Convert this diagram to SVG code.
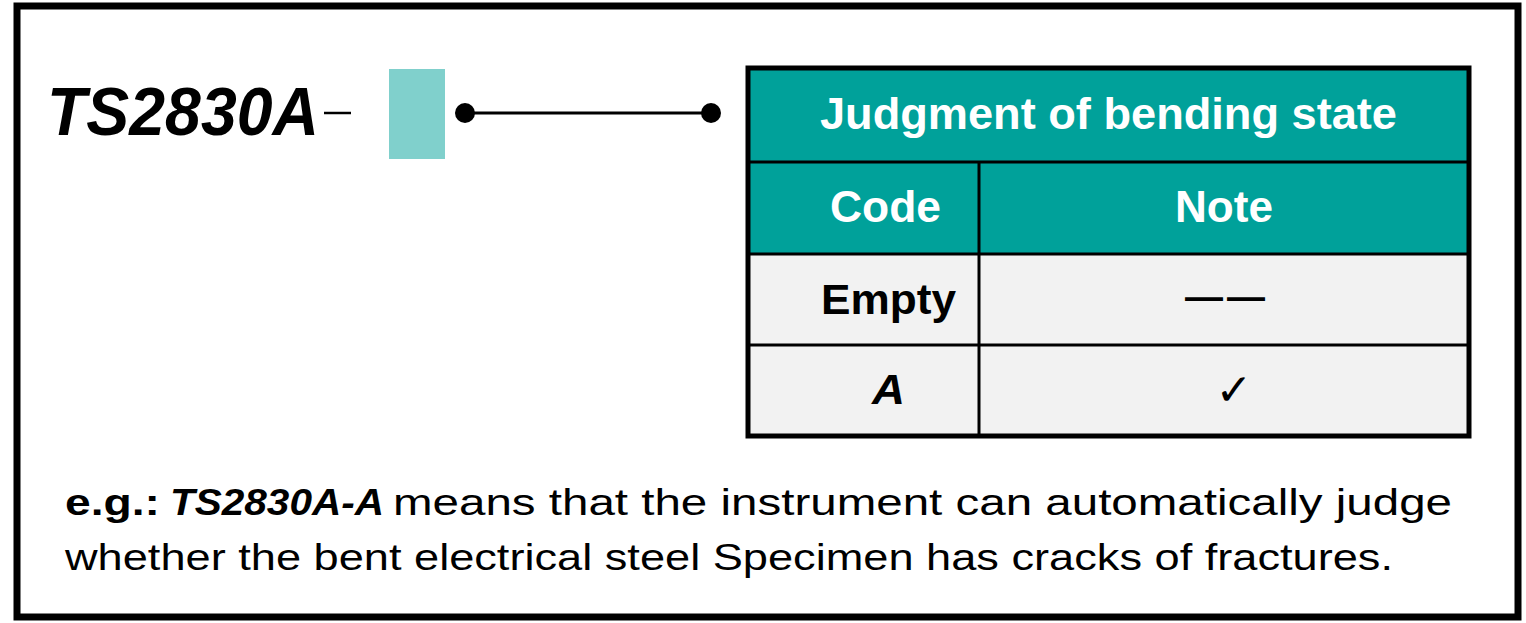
<svg xmlns="http://www.w3.org/2000/svg" width="1526" height="623" viewBox="0 0 1526 623">
<style>
.t{font-family:"Liberation Sans",Arial,sans-serif}
.b{font-weight:bold}
.i{font-style:italic}
.w{fill:#fff}
.k{fill:#000}
.hd{fill:#00A19A}
.rw{fill:#F2F2F2}
.ln{stroke:#000;stroke-width:3;fill:none}
</style>
<rect x="0" y="0" width="1526" height="623" fill="#fff"/>
<g id="frame"><rect x="17" y="6" width="1501" height="611" fill="none" stroke="#000" stroke-width="7"/></g>
<g id="model">
<text class="t b i" x="47" y="135" font-size="69" textLength="272" lengthAdjust="spacingAndGlyphs">TS2830A</text>
<line x1="324" y1="113" x2="351" y2="113" stroke="#000" stroke-width="2.5"/>
<rect x="389" y="69" width="56" height="90" fill="#80D0CC"/>
</g>
<g id="connectors">
<line class="ln" x1="465" y1="113" x2="711" y2="113"/>
<circle cx="465" cy="113" r="10" fill="#000"/>
<circle cx="711" cy="113" r="10" fill="#000"/>
</g>
<g id="table">
<rect class="hd" x="748" y="68" width="721" height="186"/>
<rect class="rw" x="748" y="254" width="721" height="182"/>
<g stroke="#000" stroke-width="3">
<line x1="748" y1="162" x2="1469" y2="162"/>
<line x1="748" y1="254" x2="1469" y2="254"/>
<line x1="748" y1="345" x2="1469" y2="345"/>
<line x1="979" y1="162" x2="979" y2="436"/>
</g>
<rect x="748" y="68" width="721" height="368" fill="none" stroke="#000" stroke-width="5"/>
<text class="t b w" x="820" y="129" font-size="45" textLength="577" lengthAdjust="spacingAndGlyphs">Judgment of bending state</text>
<text class="t b w" x="830" y="222" font-size="44" textLength="111" lengthAdjust="spacingAndGlyphs">Code</text>
<text class="t b w" x="1175" y="222" font-size="44" textLength="98" lengthAdjust="spacingAndGlyphs">Note</text>
<text class="t b k" x="821" y="314" font-size="43" textLength="135" lengthAdjust="spacingAndGlyphs">Empty</text>
<text class="t b i k" x="872" y="404" font-size="43" textLength="33" lengthAdjust="spacingAndGlyphs">A</text>
<text class="t b k" x="1185" y="310" font-size="38" letter-spacing="4">——</text>
<text class="k" x="1234" y="405" font-size="44" text-anchor="middle" font-family="DejaVu Sans,sans-serif">✓</text>
</g>
<g id="note">
<text class="t b k" x="65" y="515" font-size="37" textLength="95" lengthAdjust="spacingAndGlyphs">e.g.:</text>
<text class="t b i k" x="170" y="515" font-size="37" textLength="214" lengthAdjust="spacingAndGlyphs">TS2830A-A</text>
<text class="t k" x="393" y="515" font-size="37" textLength="1059" lengthAdjust="spacingAndGlyphs">means that the instrument can automatically judge</text>
<text class="t k" x="65" y="570" font-size="37" textLength="1328" lengthAdjust="spacingAndGlyphs">whether the bent electrical steel Specimen has cracks of fractures.</text>
</g>
</svg>
